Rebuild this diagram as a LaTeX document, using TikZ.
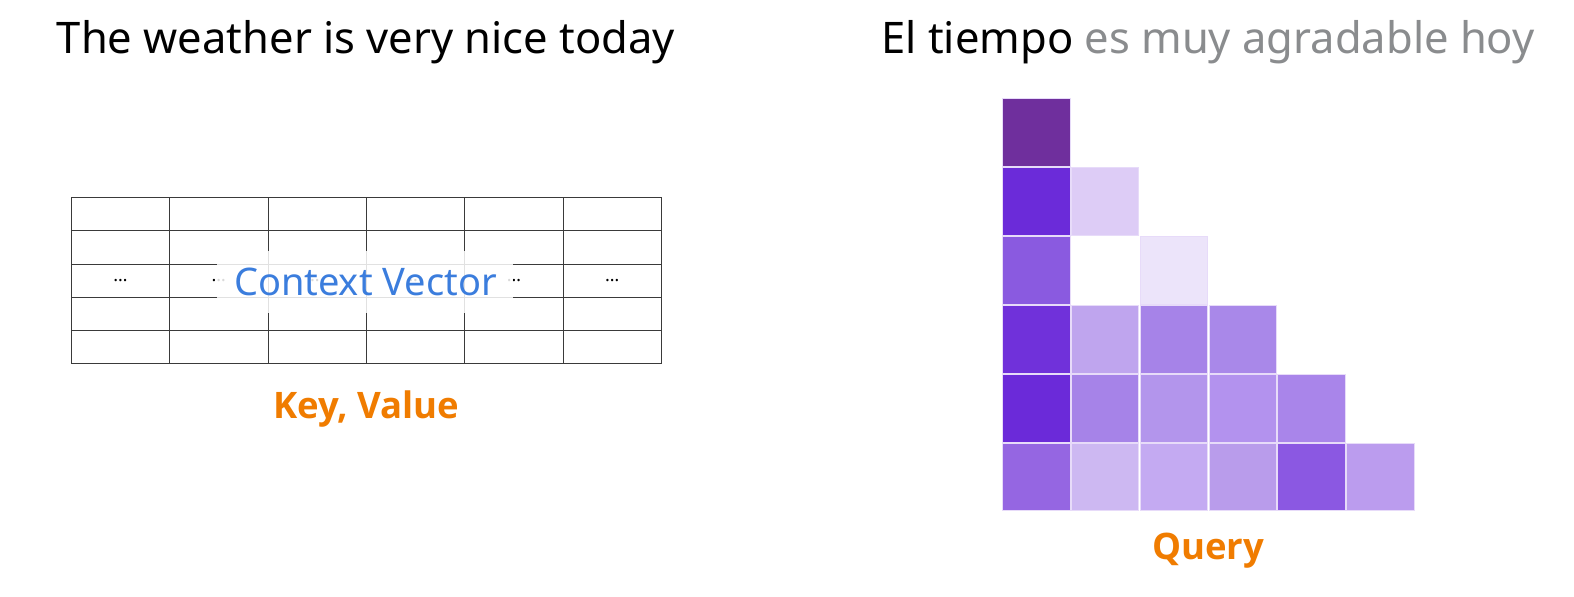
\documentclass[tikz,border=0pt]{standalone}
\usepackage{fontspec}
\setmainfont{Noto Sans}
\newfontfamily\labfont{Open Sans}
\begin{document}
\definecolor{tblline}{HTML}{3A3A3A}
\definecolor{cvblue}{HTML}{3B7DDD}
\definecolor{kvorange}{HTML}{F07C00}
\definecolor{tgray}{HTML}{8A8C8E}
\definecolor{c00}{HTML}{6F2F9D}
\definecolor{c10}{HTML}{6B2BD9}
\definecolor{c11}{HTML}{DDCCF6}
\definecolor{c20}{HTML}{8A5AE0}
\definecolor{c22}{HTML}{ECE4FA}
\definecolor{c30}{HTML}{7031DA}
\definecolor{c31}{HTML}{BFA5EE}
\definecolor{c32}{HTML}{A683E8}
\definecolor{c33}{HTML}{A988E9}
\definecolor{c40}{HTML}{6B2AD9}
\definecolor{c41}{HTML}{A683E8}
\definecolor{c42}{HTML}{B395EC}
\definecolor{c43}{HTML}{B392EE}
\definecolor{c44}{HTML}{A985EA}
\definecolor{c50}{HTML}{9566E2}
\definecolor{c51}{HTML}{CDB8F2}
\definecolor{c52}{HTML}{C4AAF2}
\definecolor{c53}{HTML}{B99CEB}
\definecolor{c54}{HTML}{8B58E2}
\definecolor{c55}{HTML}{BB9CEE}
\begin{tikzpicture}[x=1.00383pt,y=-1.00383pt,
  tbl/.style={draw=tblline,line width=1pt},
  hcell/.style={draw=c11!70!white,line width=0.8pt},
  title/.style={inner sep=0pt,font=\fontsize{43.5}{50}\selectfont},
  lab/.style={inner sep=0pt,text=kvorange,font=\labfont\bfseries\fontsize{36.5}{42}\selectfont},
  dots/.style={inner sep=0pt,font=\fontsize{18}{20}\selectfont}]
\useasboundingbox[fill=white] (0,0) rectangle (1568,594);
% titles
\node[title,anchor=center] (t1) at (364.5,42) {The weather is very nice today};
\node[title,anchor=center] (t2) at (1203.5,42) {El tiempo \textcolor{tgray}{es muy agradable hoy}};
% table
\foreach \i in {0,...,5} \draw[tbl] (71,197+33*\i) -- (659,197+33*\i);
\foreach \j in {0,...,6} \draw[tbl] (71+98*\j,197) -- (71+98*\j,362);
\foreach \j/\n in {0/d0,1/d1,2/d2,3/d3,4/d4,5/d5}
  \node[dots] (\n) at (120+98*\j,279) {\ldots};
\node[fill=white,fill opacity=0.85,text opacity=1,text=cvblue,inner xsep=0pt,inner ysep=0pt,
  font=\fontsize{38}{44}\selectfont,minimum width=296pt,minimum height=62pt] (cv) at (364,281) {Context Vector};
\node[lab] (kv) at (365,407) {Key, Value};
% heat map
\foreach \r/\c/\col in {0/0/c00,1/0/c10,1/1/c11,2/0/c20,2/2/c22,3/0/c30,3/1/c31,3/2/c32,3/3/c33,
  4/0/c40,4/1/c41,4/2/c42,4/3/c43,4/4/c44,5/0/c50,5/1/c51,5/2/c52,5/3/c53,5/4/c54,5/5/c55}
  \draw[hcell,fill=\col] (998.5+68.6*\c,98.5+68.6*\r) rectangle ++(67.4,67.4);
\node[lab] (q) at (1203.5,549) {Query};
\end{tikzpicture}
\end{document}
